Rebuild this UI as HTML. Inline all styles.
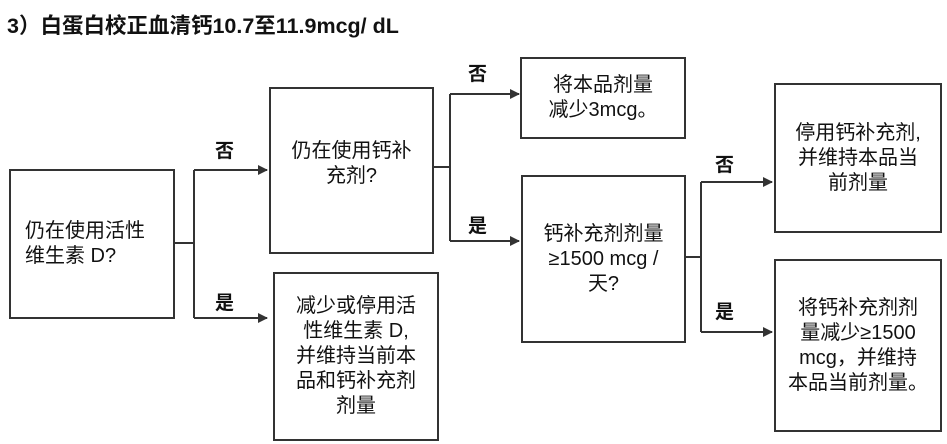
<!DOCTYPE html>
<html><head><meta charset="utf-8"><style>
body{margin:0;width:947px;height:444px;background:#fff;position:relative;overflow:hidden;font-family:"Liberation Sans","Noto Sans CJK SC",sans-serif;color:#111}
.t{position:absolute;left:7px;top:9px;font-size:21.5px;font-weight:bold;white-space:nowrap}
.b{position:absolute;border:2px solid #333;box-sizing:border-box;display:flex;align-items:center;justify-content:center;text-align:center;font-size:20px;line-height:25px;white-space:nowrap}
.l{position:absolute;font-size:19px;font-weight:bold}
</style></head><body>
<div class="t">3）白蛋白校正血清钙10.7至11.9mcg/ dL</div>
<svg width="947" height="444" style="position:absolute;left:0;top:0">
<defs><marker id="a" markerWidth="10" markerHeight="10" refX="9" refY="5" orient="auto" markerUnits="userSpaceOnUse"><path d="M0,0 L10,5 L0,10z" fill="#333"/></marker></defs>
<g stroke="#333" stroke-width="2" fill="none">
<path d="M174 243H194M194 170V318M194 170H266M194 318H266" />
<path d="M433 167H450M450 94V241" />
<path d="M685 257H701M701 182V332" />
</g>
<g stroke="#333" stroke-width="2" marker-end="url(#a)">
<line x1="194" y1="170" x2="267" y2="170"/><line x1="194" y1="318" x2="267" y2="318"/>
<line x1="450" y1="94" x2="519" y2="94"/><line x1="450" y1="241" x2="519" y2="241"/>
<line x1="701" y1="182" x2="772" y2="182"/><line x1="701" y1="332" x2="772" y2="332"/>
</g>
</svg>
<div class="b" style="left:9px;top:169px;width:166px;height:150px;justify-content:flex-start;text-align:left;padding-left:14px">仍在使用活性<br>维生素 D?</div>
<div class="b" style="left:269px;top:87px;width:165px;height:167px;align-items:flex-start;padding-top:50px">仍在使用钙补<br>充剂?</div>
<div class="b" style="left:273px;top:272px;width:166px;height:169px">减少或停用活<br>性维生素 D,<br>并维持当前本<br>品和钙补充剂<br>剂量</div>
<div class="b" style="left:520px;top:57px;width:166px;height:82px">将本品剂量<br>减少3mcg。</div>
<div class="b" style="left:521px;top:175px;width:165px;height:168px">钙补充剂剂量<br>≥1500 mcg /<br>天?</div>
<div class="b" style="left:774px;top:83px;width:168px;height:150px">停用钙补充剂,<br>并维持本品当<br>前剂量</div>
<div class="b" style="left:774px;top:259px;width:168px;height:173px">将钙补充剂剂<br>量减少≥1500<br>mcg，并维持<br>本品当前剂量。</div>
<div class="l" style="left:215px;top:136px">否</div>
<div class="l" style="left:215px;top:288px">是</div>
<div class="l" style="left:468px;top:59px">否</div>
<div class="l" style="left:468px;top:211px">是</div>
<div class="l" style="left:715px;top:150px">否</div>
<div class="l" style="left:715px;top:297px">是</div>
</body></html>
